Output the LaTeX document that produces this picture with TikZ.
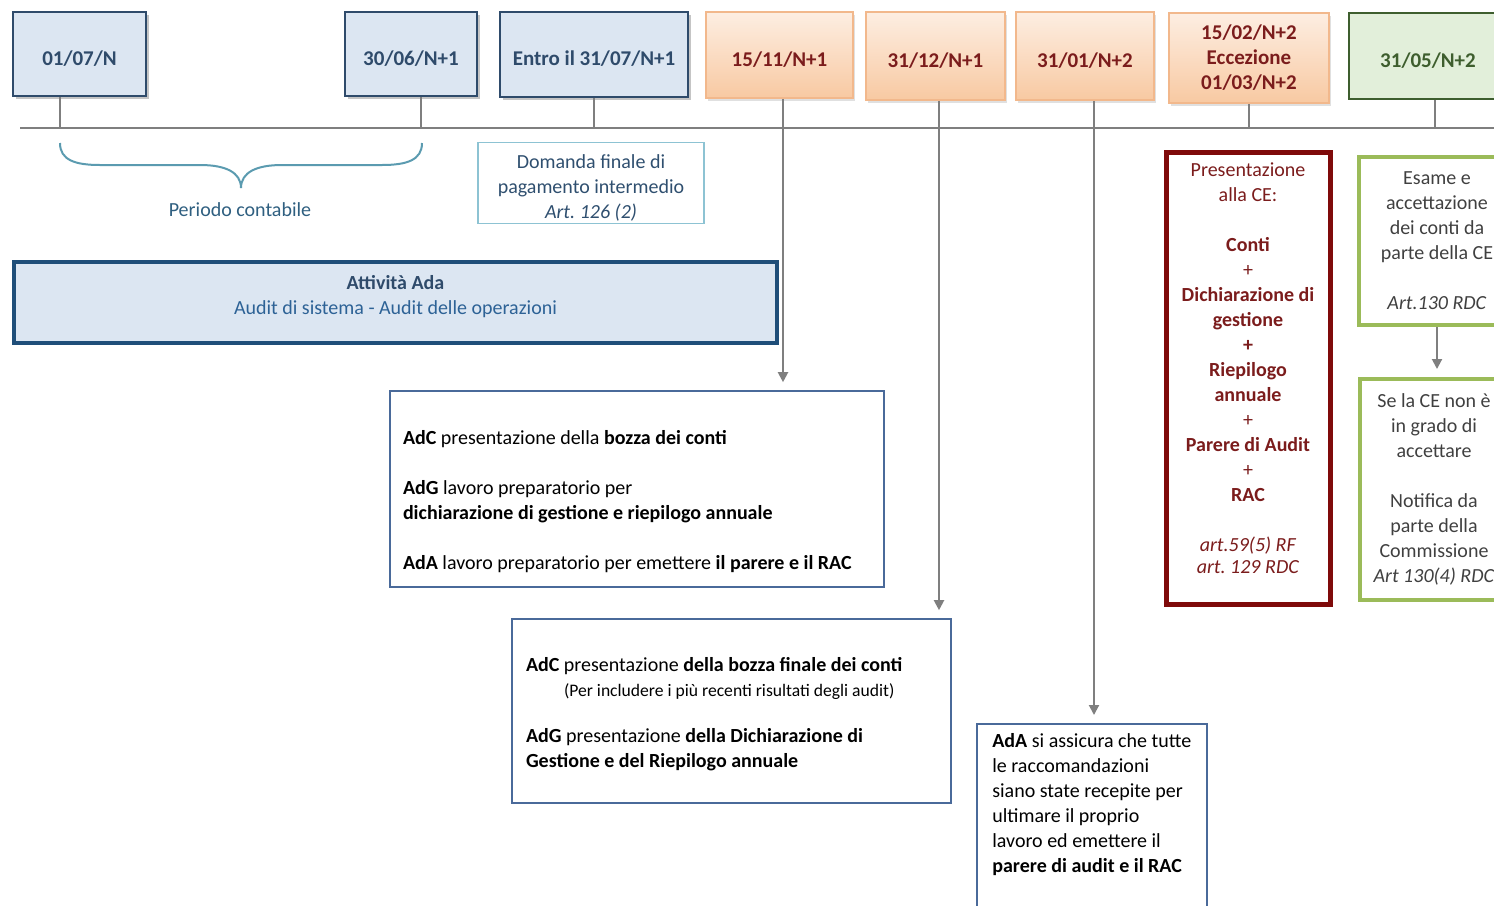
\documentclass[tikz,border=0pt]{standalone}
\usepackage{fontspec}
\setmainfont{Carlito}
\usetikzlibrary{arrows.meta,shadows}
\frenchspacing

\definecolor{bluefill}{HTML}{DCE6F2}
\definecolor{blueline}{HTML}{2F4B6B}
\definecolor{navy}{HTML}{1F4E79}
\definecolor{auditblue}{HTML}{2D6296}
\definecolor{peachtop}{HTML}{FDEEE2}
\definecolor{peachbot}{HTML}{F8C9A2}
\definecolor{peachline}{HTML}{F2B88C}
\definecolor{darkred}{HTML}{7B1C1C}
\definecolor{boxred}{HTML}{7F0A0A}
\definecolor{greenfill}{HTML}{E2EFDA}
\definecolor{greenline}{HTML}{3E5E2E}
\definecolor{lightgreen}{HTML}{9BBB59}
\definecolor{axisgrey}{HTML}{7F7F7F}
\definecolor{bracecol}{HTML}{5B9BB0}
\definecolor{periodtext}{HTML}{2F5F80}
\definecolor{infoline}{HTML}{8DC3D3}
\definecolor{infotext}{HTML}{2F4F6F}
\definecolor{boxblue}{HTML}{4A6A9A}

\begin{document}
\begin{tikzpicture}[x=0.5pt,y=-0.5pt,
	every node/.style={font=\fontsize{10}{12.5}\selectfont},
	datefont/.style={font=\fontsize{10.5}{12.5}\selectfont\bfseries},
	onerow/.style={text height=12.5pt,text depth=1.5pt},
	bluedate/.style={datefont,onerow,draw=blueline,line width=1.2pt,fill=bluefill,text=blueline,
		drop shadow={shadow xshift=1.5pt,shadow yshift=-1.5pt,fill=black!45,opacity=.5}},
	orangedate/.style={datefont,draw=peachline,line width=0.8pt,top color=peachtop,bottom color=peachbot,
		text=darkred,align=center,drop shadow={shadow xshift=1.2pt,shadow yshift=-1.5pt,fill=black!30,opacity=.4}},
	greendate/.style={datefont,onerow,draw=greenline,line width=1pt,fill=greenfill,text=greenline},
	axis/.style={draw=axisgrey,line width=1pt},
	arr/.style={draw=axisgrey,line width=1pt,shorten >=4pt,-{Triangle[length=5pt,width=5pt]}},
	taskbox/.style={draw=boxblue,line width=0.8pt,align=flush left,text=black},
	redbox/.style={draw=boxred,line width=2.5pt,align=center,text=darkred},
	greenbox/.style={draw=lightgreen,line width=2pt,align=center,text=black!75}]
	\useasboundingbox (0,0) rectangle (1494,905);
	\clip (0,0) rectangle (1494,905);

	% date boxes
	\draw (79.5,54) node[bluedate,minimum width=66.5pt,minimum height=42pt] (d0107) {01/07/N};
	\draw (411,54) node[bluedate,minimum width=66pt,minimum height=42pt] (d3006) {30/06/N+1};
	\draw (594,54.5) node[bluedate,minimum width=94pt,minimum height=42.5pt] (dentro) {Entro il 31/07/N+1};
	\draw (779.5,55) node[orangedate,onerow,minimum width=73.5pt,minimum height=43pt] (d1511) {15/11/N+1};
	\draw (935.5,56) node[orangedate,onerow,minimum width=69.5pt,minimum height=44pt] (d3112) {31/12/N+1};
	\draw (1085,56) node[orangedate,onerow,minimum width=69pt,minimum height=44pt] (d3101) {31/01/N+2};
	\draw (1249,58) node[orangedate,minimum width=80pt,minimum height=45pt] (d1502) {15/02/N+2\\Eccezione\\01/03/N+2};
	\draw (1428,56) node[greendate,minimum width=79pt,minimum height=43pt] (d3105) {31/05/N+2};

	% timeline
	\coordinate (tlstart) at (20,128);
	\coordinate (tlend) at (1494,128);
	\draw[axis] (tlstart) -- (tlend);
	\coordinate (t0107) at (60,128);
	\coordinate (t3006) at (421,128);
	\coordinate (t1511) at (783,128);
	\coordinate (t3112) at (939,128);
	\coordinate (t3101) at (1094,128);
	\coordinate (t3105) at (1435,128);
	\draw[axis] (t0107 |- d0107.south) -- (t0107);
	\draw[axis] (t3006 |- d3006.south) -- (t3006);
	\draw[axis] (dentro.south) -- (dentro.south |- tlstart);
	\draw[axis] (d1502.south) -- (d1502.south |- tlstart);
	\draw[axis] (t3105 |- d3105.south) -- (t3105);

	% periodo contabile
	\draw[bracecol,line width=1pt] (60,143) .. controls (60,160) and (75,165) .. (100,165) -- (200,165)
		.. controls (225,165) and (241,172) .. (241,188)
		.. controls (241,172) and (257,165) .. (282,165) -- (382,165)
		.. controls (407,165) and (422,160) .. (422,143);
	\draw (240,210) node[text=periodtext] (periodo) {Periodo contabile};

	\draw (591,183) node[draw=infoline,line width=0.8pt,text=infotext,align=center,inner ysep=1pt,
		minimum width=113pt,minimum height=40pt] (domanda)
		{\rule{0pt}{12pt}Domanda finale di\\pagamento intermedio\\\textit{Art. 126 (2)}};

	\draw (395.5,302.5) node[draw=navy,line width=2pt,fill=bluefill,text=blueline,align=center,
		minimum width=381.5pt,minimum height=40.5pt] (attivita)
		{\textbf{Attività Ada}\\\color{auditblue}Audit di sistema - Audit delle operazioni\\[-5pt]\mbox{}};

	% adempimenti
	\draw (637,489) node[taskbox,text width=234pt,inner xsep=6.5pt,minimum height=98pt] (bozza)
		{\rule{0pt}{20pt}\textbf{AdC} presentazione della \textbf{bozza dei conti}\\[12.5pt]
		\textbf{AdG} lavoro preparatorio per\\\textbf{dichiarazione di gestione e riepilogo annuale}\\[12.5pt]
		\textbf{AdA} lavoro preparatorio per emettere \textbf{il parere e il RAC}};
	\draw (731.5,711) node[taskbox,text width=205.5pt,inner xsep=7pt,minimum height=92pt] (finale)
		{\rule{0pt}{10pt}\textbf{AdC} presentazione \textbf{della bozza finale dei conti}\\
		\hspace*{19pt}{\fontsize{8.8}{12}\selectfont(Per includere i più recenti risultati degli audit)}\\[10.5pt]
		\textbf{AdG} presentazione \textbf{della Dichiarazione di}\\\textbf{Gestione e del Riepilogo annuale}};
	\draw (976,723) node[taskbox,anchor=north west,minimum width=115pt,inner ysep=5pt] (assicura)
		{\textbf{AdA} si assicura che tutte\\le raccomandazioni\\siano state recepite per\\ultimare il proprio\\
		lavoro ed emettere il\\\textbf{parere di audit e il RAC}\\~\\~\\~};

	\draw (1248,378) node[redbox,minimum width=82pt,minimum height=226pt] (presenta)
		{Presentazione\\alla CE:\\[12.5pt]\textbf{Conti}\\+\\\textbf{Dichiarazione di}\\\textbf{gestione}\\\textbf{+}\\
		\textbf{Riepilogo}\\\textbf{annuale}\\+\\\textbf{Parere di Audit}\\+\\\textbf{RAC}\\[12.5pt]
		\textit{art.59(5) RF}\\[-1.5pt]\textit{art. 129 RDC}\\[-2.5pt]\mbox{}};

	\draw (1437,241) node[greenbox,minimum width=78pt,minimum height=84pt] (esame)
		{Esame e\\accettazione\\dei conti da\\parte della CE\\[12.5pt]\textit{Art.130 RDC}};
	\draw (1434,489.5) node[greenbox,minimum width=74pt,minimum height=110.5pt] (notifica)
		{Se la CE non è\\in grado di\\accettare\\[12.5pt]Notifica da\\parte della\\Commissione\\\textit{Art 130(4) RDC}};

	% frecce
	\draw[arr] (t1511 |- d1511.south) -- (t1511 |- bozza.north);
	\draw[arr] (t3112 |- d3112.south) -- (t3112 |- finale.north);
	\draw[arr] (t3101 |- d3101.south) -- (t3101 |- assicura.north);
	\draw[arr] (esame.south) -- (esame.south |- notifica.north);
\end{tikzpicture}
\end{document}
